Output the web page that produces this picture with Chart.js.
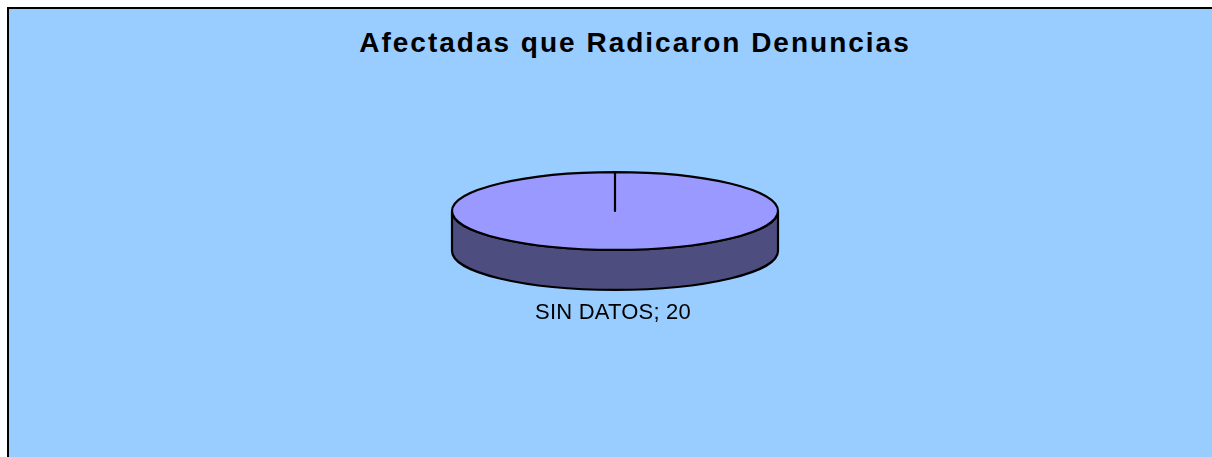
<!DOCTYPE html>
<html lang="es">
<head>
<meta charset="utf-8">
<title>Afectadas que Radicaron Denuncias</title>
<script src="https://cdn.jsdelivr.net/npm/chart.js@4/dist/chart.umd.min.js"></script>
<style>
  html, body { margin: 0; padding: 0; background: #ffffff; }
  #wrap { position: relative; width: 1212px; height: 457px; overflow: hidden; }
  #frame {
    position: absolute; left: 7px; top: 7px; width: 1300px; height: 600px;
    background: #99CCFF; border: 2px solid #000000; box-sizing: border-box;
  }
  #title {
    position: absolute; left: 0; top: 29px; width: 1266px; padding-left: 2px;
    text-align: center; font: bold 28px "Liberation Sans", Arial, sans-serif;
    line-height: 28px; letter-spacing: 2px; color: #000000; white-space: nowrap;
  }
  #chart { position: absolute; left: 0; top: 0; }
</style>
</head>
<body>
<div id="wrap">
  <div id="frame"></div>
  <div id="title">Afectadas que Radicaron Denuncias</div>
  <canvas id="chart" width="1212" height="457"></canvas>
</div>
<script>
// Slices of the pie
const categories = ['SIN DATOS'];
const values = [20];

// Top face and side wall colours, one per slice
const sliceColors = ['#9999FF'];
const sideColors = ['#4D4D80'];

// 3D look: vertical squash of the disc and thickness of the wall (relative to radius)
const TILT = 0.239;
const DEPTH = 0.245;

const pie3d = {
  id: 'pie3d',
  beforeDatasetsDraw(chart) {
    const ctx = chart.ctx;
    const meta = chart.getDatasetMeta(0);
    ctx.save();
    ctx.lineWidth = 2.2;
    ctx.lineJoin = 'round';
    ctx.strokeStyle = '#000000';
    meta.data.forEach((el, i) => {
      const r = el.outerRadius, ry = r * TILT, d = r * DEPTH;
      for (const shift of [-2 * Math.PI, 0, 2 * Math.PI]) {
        const a0 = Math.max(el.startAngle + shift, 0);
        const a1 = Math.min(el.endAngle + shift, Math.PI);
        if (a1 <= a0) continue;
        ctx.beginPath();
        ctx.ellipse(el.x, el.y, r, ry, 0, a0, a1, false);
        ctx.ellipse(el.x, el.y + d, r, ry, 0, a1, a0, true);
        ctx.closePath();
        ctx.fillStyle = sideColors[i % sideColors.length];
        ctx.fill();
        ctx.stroke();
      }
    });
    ctx.restore();
    // squash the library-drawn disc into an ellipse
    const cy = meta.data.length ? meta.data[0].y : 0;
    ctx.save();
    ctx.translate(0, cy);
    ctx.scale(1, TILT);
    ctx.translate(0, -cy);
  },
  afterDatasetsDraw(chart) {
    const ctx = chart.ctx;
    ctx.restore();
    const meta = chart.getDatasetMeta(0);
    const data = chart.data.datasets[0].data;
    ctx.save();
    ctx.lineWidth = 2.2;
    ctx.lineJoin = 'round';
    ctx.strokeStyle = '#000000';
    meta.data.forEach((el) => {
      const r = el.outerRadius, ry = r * TILT;
      ctx.beginPath();
      ctx.moveTo(el.x, el.y);
      ctx.lineTo(el.x + r * Math.cos(el.startAngle), el.y + ry * Math.sin(el.startAngle));
      ctx.ellipse(el.x, el.y, r, ry, 0, el.startAngle, el.endAngle, false);
      ctx.closePath();
      ctx.stroke();
    });
    // data labels "category; value"
    ctx.fillStyle = '#000000';
    ctx.font = '22px "Liberation Sans", Arial, sans-serif';
    ctx.letterSpacing = '0.2px';
    ctx.textAlign = 'center';
    ctx.textBaseline = 'alphabetic';
    meta.data.forEach((el, i) => {
      const r = el.outerRadius;
      const y = el.y + r * TILT + r * DEPTH + 29;
      ctx.fillText(chart.data.labels[i] + '; ' + data[i], el.x - 2, y);
    });
    ctx.restore();
  }
};

new Chart(document.getElementById('chart'), {
  type: 'pie',
  data: {
    labels: categories,
    datasets: [{
      data: values,
      backgroundColor: sliceColors,
      borderWidth: 0
    }]
  },
  options: {
    responsive: false,
    animation: false,
    events: [],
    layout: { padding: { top: 48, bottom: 83, left: 18, right: 0 } },
    plugins: {
      legend: { display: false },
      tooltip: { enabled: false },
      title: { display: false }
    }
  },
  plugins: [pie3d]
});
</script>
</body>
</html>
